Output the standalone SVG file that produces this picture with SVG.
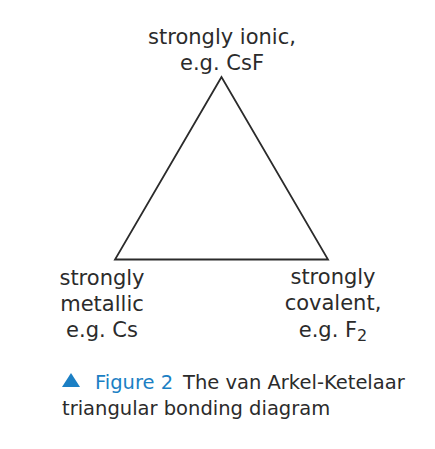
<svg xmlns="http://www.w3.org/2000/svg" width="435" height="449" viewBox="0 0 435 449">
<style>
.t{font-family:"DejaVu Sans","Open Sans",sans-serif;font-size:21px;fill:#2b2b2b}
.c{font-family:"DejaVu Sans","Open Sans",sans-serif;font-size:19.5px;fill:#2b2b2b}
.b{fill:#1b7fc4}
</style>
<rect width="435" height="449" fill="#fff"/>
<g id="edges">
<polygon points="221.5,77 115,259.5 328,259.5" fill="none" stroke="#2b2b2b" stroke-width="1.8" stroke-linejoin="miter"/>
</g>
<g id="ionic">
<text class="t" x="222" y="44" text-anchor="middle">strongly ionic,</text>
<text class="t" x="222" y="70" text-anchor="middle">e.g. CsF</text>
</g>
<g id="metallic">
<text class="t" x="102" y="285" text-anchor="middle">strongly</text>
<text class="t" x="102" y="311" text-anchor="middle">metallic</text>
<text class="t" x="102" y="337" text-anchor="middle">e.g. Cs</text>
</g>
<g id="covalent">
<text class="t" x="333" y="284" text-anchor="middle">strongly</text>
<text class="t" x="333" y="310" text-anchor="middle">covalent,</text>
<text class="t" x="333" y="337" text-anchor="middle">e.g. F<tspan font-size="16" dy="4">2</tspan></text>
</g>
<g id="caption">
<polygon class="b" points="62,387 71,373 80,387"/>
<text class="c" x="95" y="389"><tspan class="b">Figure 2</tspan><tspan x="183">The van Arkel-Ketelaar</tspan></text>
<text class="c" x="62" y="415">triangular bonding diagram</text>
</g>
</svg>
